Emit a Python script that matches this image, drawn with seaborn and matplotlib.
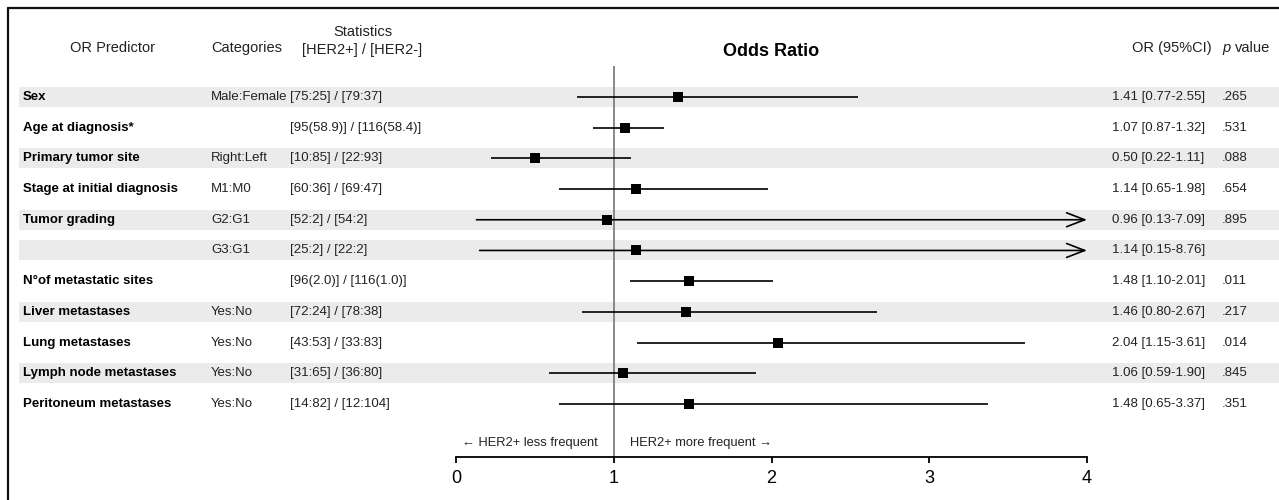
import numpy as np
import pandas as pd
import matplotlib
matplotlib.use("Agg")
import matplotlib.pyplot as plt
from matplotlib.patches import Rectangle
from matplotlib.lines import Line2D
from matplotlib.transforms import blended_transform_factory
import seaborn as sns

# Data
predictors = ["Sex", "Age at diagnosis*", "Primary tumor site", "Stage at initial diagnosis",
              "Tumor grading", "", "N°of metastatic sites", "Liver metastases",
              "Lung metastases", "Lymph node metastases", "Peritoneum metastases"]
categories = ["Male:Female", "", "Right:Left", "M1:M0", "G2:G1", "G3:G1", "",
              "Yes:No", "Yes:No", "Yes:No", "Yes:No"]
stats = ["[75:25] / [79:37]", "[95(58.9)] / [116(58.4)]", "[10:85] / [22:93]",
         "[60:36] / [69:47]", "[52:2] / [54:2]", "[25:2] / [22:2]",
         "[96(2.0)] / [116(1.0)]", "[72:24] / [78:38]", "[43:53] / [33:83]",
         "[31:65] / [36:80]", "[14:82] / [12:104]"]
odds = [1.41, 1.07, 0.50, 1.14, 0.96, 1.14, 1.48, 1.46, 2.04, 1.06, 1.48]
ci_low = [0.77, 0.87, 0.22, 0.65, 0.13, 0.15, 1.10, 0.80, 1.15, 0.59, 0.65]
ci_high = [2.55, 1.32, 1.11, 1.98, 7.09, 8.76, 2.01, 2.67, 3.61, 1.90, 3.37]
pvals = [".265", ".531", ".088", ".654", ".895", "", ".011", ".217", ".014", ".845", ".351"]
shaded = [True, False, True, False, True, True, False, True, False, True, False]
xticks = [0, 1, 2, 3, 4]

df = pd.DataFrame({"pred": predictors, "cat": categories, "stat": stats,
                   "OR": odds, "lo": ci_low, "hi": ci_high, "p": pvals,
                   "shade": shaded})
df["row"] = np.arange(len(df))

sns.set_theme(style="white")
plt.rcParams["font.family"] = ["Liberation Sans", "DejaVu Sans"]

W, H = 1279, 500
fig = plt.figure(figsize=(W / 100, H / 100), dpi=100)

def fx(px):
    return px / W

def fy(py):
    return 1 - py / H

# forest axes: x=0 at 456px, x=4 at 1087px; from 66px down to 457px
ax = fig.add_axes([fx(456), fy(457), fx(1087) - fx(456), fy(66) - fy(457)])
ax.patch.set_visible(False)
ax.set_xlim(0, 4)
ax.set_ylim(11.73, -1.01)
xmax = xticks[-1]

trans = blended_transform_factory(fig.transFigure, ax.transData)

# shaded bands
for _, r in df[df["shade"]].iterrows():
    ax.add_patch(Rectangle((fx(19), r["row"] - 0.326), 1 - fx(19), 0.652,
                           transform=trans, facecolor="#ebebeb", edgecolor="none",
                           zorder=0, clip_on=False))

# reference line
ax.axvline(1, color="#808080", lw=1.3, zorder=1)

# CI lines / arrows
for _, r in df.iterrows():
    if r["hi"] > xmax:
        ax.annotate("", xy=(xmax, r["row"]), xytext=(r["lo"], r["row"]),
                    arrowprops=dict(arrowstyle="->,head_length=1.3,head_width=0.5",
                                    lw=1.2, color="black", shrinkA=0, shrinkB=0,
                                    mutation_scale=10),
                    annotation_clip=False, zorder=2)
    else:
        ax.hlines(r["row"], r["lo"], r["hi"], color="black", lw=1.2, zorder=2)

sns.scatterplot(data=df, x="OR", y="row", marker="s", s=62, color="black",
                edgecolor="black", linewidth=0, ax=ax, zorder=3, clip_on=False,
                legend=False)

# axis styling
for side in ["top", "right", "left"]:
    ax.spines[side].set_visible(False)
ax.spines["bottom"].set_color("black")
ax.spines["bottom"].set_linewidth(1.3)
ax.spines["bottom"].set_bounds(0, 4)
ax.set_xticks(xticks)
ax.set_xticklabels([str(t) for t in xticks])
ax.set_yticks([])
ax.tick_params(axis="x", direction="out", length=4.5, width=1.3, color="black",
               labelsize=13, pad=5, bottom=True, labelcolor="black")
ax.set_xlabel("")
ax.set_ylabel("")

# direction labels
tr_dir = blended_transform_factory(ax.transData, ax.transAxes)
ax.text(0.9, 0.036, "← HER2+ less frequent", transform=tr_dir, ha="right",
        va="center", fontsize=9.3, color="#222222")
ax.text(1.1, 0.036, "HER2+ more frequent →", transform=tr_dir, ha="left",
        va="center", fontsize=9.3, color="#222222")

# table columns
for _, r in df.iterrows():
    y = r["row"]
    ax.text(fx(23), y, r["pred"], transform=trans, ha="left", va="center",
            fontsize=9.5, fontweight="bold", color="black")
    ax.text(fx(211), y, r["cat"], transform=trans, ha="left", va="center",
            fontsize=9.5, color="#222222")
    ax.text(fx(290), y, r["stat"], transform=trans, ha="left", va="center",
            fontsize=9.5, color="#222222")
    ax.text(fx(1112), y, f"{r['OR']:.2f} [{r['lo']:.2f}-{r['hi']:.2f}]",
            transform=trans, ha="left", va="center", fontsize=9.5, color="#222222")
    ax.text(fx(1222), y, r["p"], transform=trans, ha="left", va="center",
            fontsize=9.5, color="#222222")

# headers
hdr = dict(fontsize=10.5, va="center", color="#222222")
fig.text(fx(112), fy(48), "OR Predictor", ha="center", **hdr)
fig.text(fx(247), fy(48), "Categories", ha="center", **hdr)
fig.text(fx(363), fy(32), "Statistics", ha="center", **hdr)
fig.text(fx(362), fy(50), "[HER2+] / [HER2-]", ha="center", **hdr)
fig.text(fx(1212), fy(48), "OR (95%CI)", ha="right", **hdr)
fig.text(fx(1222), fy(48), "p", ha="left", style="italic", **hdr)
fig.text(fx(1235), fy(48), "value", ha="left", **hdr)
fig.text(fx(771), fy(52), "Odds Ratio", ha="center", va="center",
         fontsize=13, fontweight="bold", color="black")

# frame (left and top edges visible)
fig.add_artist(Line2D([fx(8), fx(8)], [0, fy(8)], color="#111111", lw=1.6,
                      transform=fig.transFigure))
fig.add_artist(Line2D([fx(8), 1], [fy(8), fy(8)], color="#111111", lw=1.6,
                      transform=fig.transFigure))

fig.savefig("out.png", dpi=100)
